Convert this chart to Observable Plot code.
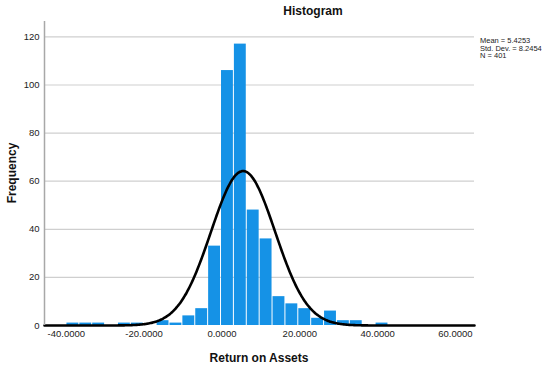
<!DOCTYPE html>
<html>
<head>
<meta charset="utf-8">
<script src="https://cdn.jsdelivr.net/npm/d3@7"></script>
<script src="https://cdn.jsdelivr.net/npm/@observablehq/plot@0.6"></script>
<style>
  html, body { margin: 0; padding: 0; background: #fff; }
  #chart { width: 550px; height: 367px; }
</style>
</head>
<body>
<div id="chart"></div>
<script>
// Histogram bins (lower/upper edges) and frequencies
const binLow  = [-39.96, -36.65, -33.34, -30.03, -26.72, -23.41, -20.10, -16.79, -13.48, -10.17, -6.86, -3.55, -0.24, 3.07, 6.38, 9.69, 13.00, 16.31, 19.62, 22.93, 26.24, 29.55, 32.86, 36.17, 39.48];
const binHigh = [-36.65, -33.34, -30.03, -26.72, -23.41, -20.10, -16.79, -13.48, -10.17, -6.86, -3.55, -0.24, 3.07, 6.38, 9.69, 13.00, 16.31, 19.62, 22.93, 26.24, 29.55, 32.86, 36.17, 39.48, 42.79];
const counts  = [1, 1, 1, 0, 1, 1, 0, 2, 1, 4, 7, 33, 106, 117, 48, 36, 12, 9, 7, 3, 6, 2, 2, 0, 1];

// Summary statistics shown on the chart
const mean = 5.4253;
const stdDev = 8.2454;
const nObs = 401;
const statLines = ["Mean = 5.4253", "Std. Dev. = 8.2454", "N = 401"];

// Axis ticks
const xTicks = [-40, -20, 0, 20, 40, 60];
const yTicks = [0, 20, 40, 60, 80, 100, 120];
const xDomain = [-45.6, 64.9];
const yDomain = [0, 126.4];

const bins = binLow.map((lo, i) => ({x1: lo, x2: binHigh[i], y: counts[i]}));

// Fitted normal curve (SPSS overlay) from the displayed mean / std. dev. / N
const binWidth = binHigh[0] - binLow[0];
const curve = d3.range(xDomain[0], xDomain[1] + 0.01, 0.25).map(x => ({
  x,
  y: nObs * binWidth / (stdDev * Math.sqrt(2 * Math.PI)) * Math.exp(-0.5 * ((x - mean) / stdDev) ** 2)
}));

const font = "'Liberation Sans', Arial, Helvetica, sans-serif";

const plot = Plot.plot({
  width: 550,
  height: 367,
  marginLeft: 44,
  marginRight: 76,
  marginTop: 21,
  marginBottom: 42,
  style: {fontFamily: font, fontSize: "9px", color: "#222", background: "#fff"},
  x: {domain: xDomain},
  y: {domain: yDomain},
  marks: [
    Plot.ruleY(yTicks.filter(d => d > 0), {stroke: "#cfcfcf", strokeWidth: 1.2, strokeOpacity: 1}),
    Plot.rectY(bins, {x1: "x1", x2: "x2", y: "y", fill: "#1592e6", insetLeft: 0.5, insetRight: 0.5}),
    Plot.line(curve, {x: "x", y: "y", stroke: "#000", strokeWidth: 2.6, curve: "basis"}),
    Plot.ruleX([xDomain[0]], {stroke: "#a8a8a8", strokeWidth: 1.5}),
    Plot.axisX({ticks: xTicks, tickFormat: d => d.toFixed(4), tickSize: 0, tickPadding: 5, label: null, fontSize: 9.5}),
    Plot.axisY({ticks: yTicks, tickSize: 0, tickPadding: 5, label: null, fontSize: 9.5})
  ]
});

const svg = d3.select(plot);
svg.append("text")
  .attr("x", 313).attr("y", 15)
  .attr("text-anchor", "middle")
  .attr("font-family", font).attr("font-size", 12).attr("font-weight", "bold").attr("fill", "#111")
  .text("Histogram");
svg.append("text")
  .attr("x", 259).attr("y", 362)
  .attr("text-anchor", "middle")
  .attr("font-family", font).attr("font-size", 12).attr("font-weight", "bold").attr("fill", "#111")
  .text("Return on Assets");
svg.append("text")
  .attr("transform", "translate(15.5,173) rotate(-90)")
  .attr("text-anchor", "middle")
  .attr("font-family", font).attr("font-size", 12).attr("font-weight", "bold").attr("fill", "#111")
  .text("Frequency");
const legend = svg.append("g")
  .attr("font-family", font).attr("font-size", 7.5).attr("fill", "#222")
  .attr("text-anchor", "start");
statLines.forEach((s, i) => {
  legend.append("text").attr("x", 480).attr("y", 43 + i * 7.5).attr("text-anchor", "start").text(s);
});

document.getElementById("chart").appendChild(plot);
</script>
</body>
</html>
